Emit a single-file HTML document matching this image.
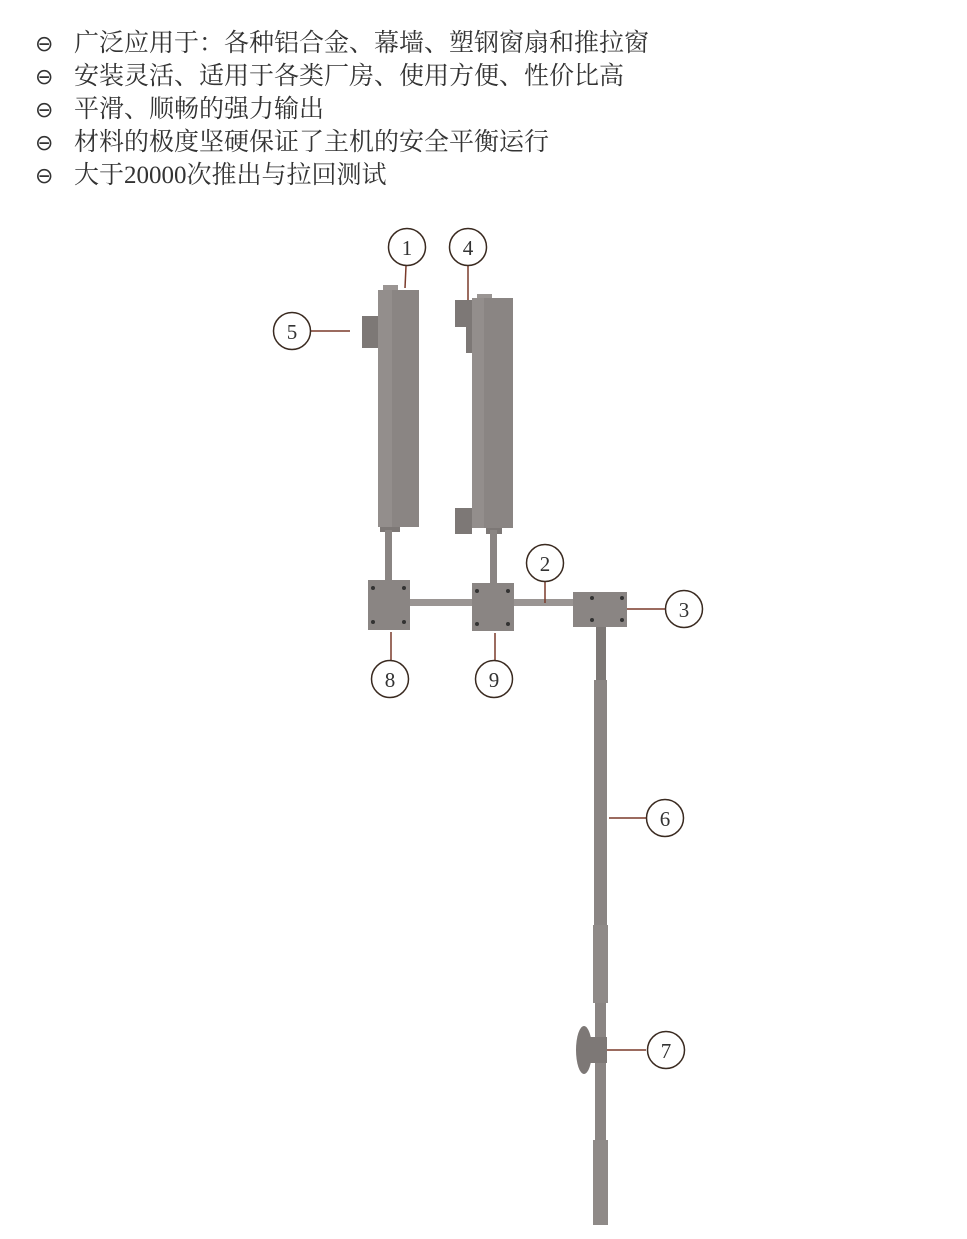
<!DOCTYPE html>
<html><head><meta charset="utf-8"><style>
body{margin:0;background:#fff;width:967px;height:1239px;overflow:hidden}
</style></head><body>
<svg width="967" height="1239" xmlns="http://www.w3.org/2000/svg" style="position:absolute;left:0;top:0">
<g font-family="'Liberation Serif','Noto Serif CJK SC',serif" font-size="25" fill="#333">
<text x="35" y="51" font-family="'DejaVu Sans',sans-serif" font-size="22">⊖</text><text x="74" y="51">广泛应用于：各种铝合金、幕墙、塑钢窗扇和推拉窗</text>
<text x="35" y="84" font-family="'DejaVu Sans',sans-serif" font-size="22">⊖</text><text x="74" y="84">安装灵活、适用于各类厂房、使用方便、性价比高</text>
<text x="35" y="117" font-family="'DejaVu Sans',sans-serif" font-size="22">⊖</text><text x="74" y="117">平滑、顺畅的强力输出</text>
<text x="35" y="150" font-family="'DejaVu Sans',sans-serif" font-size="22">⊖</text><text x="74" y="150">材料的极度坚硬保证了主机的安全平衡运行</text>
<text x="35" y="183" font-family="'DejaVu Sans',sans-serif" font-size="22">⊖</text><text x="74" y="183">大于20000次推出与拉回测试</text>
</g>
<g fill="#8a8583">
<rect x="383" y="285" width="15" height="6" fill="#9a9593"/>
<rect x="378" y="290" width="14" height="237" fill="#938e8c"/>
<rect x="392" y="290" width="27" height="237"/>
<rect x="362" y="316" width="16" height="32" fill="#7d7876"/>
<rect x="380" y="527" width="20" height="5" fill="#7d7876"/>
<rect x="385" y="530" width="7" height="50"/>
<rect x="477" y="294" width="15" height="6" fill="#9a9593"/>
<rect x="472" y="298" width="12" height="230" fill="#938e8c"/>
<rect x="484" y="298" width="29" height="230"/>
<rect x="455" y="300" width="17" height="27" fill="#7d7876"/>
<rect x="466" y="318" width="6" height="35" fill="#7d7876"/>
<rect x="455" y="508" width="17" height="26" fill="#7d7876"/>
<rect x="486" y="528" width="16" height="6" fill="#7d7876"/>
<rect x="490" y="530" width="7" height="53"/>
<rect x="410" y="599" width="165" height="7" fill="#9a9593"/>
<rect x="368" y="580" width="42" height="50"/>
<rect x="472" y="583" width="42" height="48"/>
<rect x="573" y="592" width="54" height="35"/>
<rect x="596" y="627" width="10" height="55" fill="#7d7876"/>
<rect x="594" y="680" width="13" height="245"/>
<rect x="593" y="925" width="15" height="78" fill="#8f8a88"/>
<rect x="595" y="1003" width="11" height="137"/>
<rect x="593" y="1140" width="15" height="85" fill="#8f8a88"/>
<ellipse cx="584" cy="1050" rx="8" ry="24" fill="#7d7876"/>
<rect x="584" y="1037" width="23" height="26" fill="#7d7876"/>
</g>
<g fill="#333">
<circle cx="373" cy="588" r="2"/><circle cx="404" cy="588" r="2"/><circle cx="373" cy="622" r="2"/><circle cx="404" cy="622" r="2"/>
<circle cx="477" cy="591" r="2"/><circle cx="508" cy="591" r="2"/><circle cx="477" cy="624" r="2"/><circle cx="508" cy="624" r="2"/>
<circle cx="592" cy="598" r="2"/><circle cx="622" cy="598" r="2"/><circle cx="592" cy="620" r="2"/><circle cx="622" cy="620" r="2"/>
</g>
<g stroke="#7a3a2a" stroke-width="1.5" fill="none">
<line x1="406" y1="266" x2="405" y2="288"/>
<line x1="468" y1="266" x2="468" y2="300"/>
<line x1="311" y1="331" x2="350" y2="331"/>
<line x1="545" y1="582" x2="545" y2="603"/>
<line x1="627" y1="609" x2="665" y2="609"/>
<line x1="391" y1="632" x2="391" y2="660"/>
<line x1="495" y1="633" x2="495" y2="660"/>
<line x1="609" y1="818" x2="646" y2="818"/>
<line x1="607" y1="1050" x2="646" y2="1050"/>
</g>
<g stroke="#3a2a20" stroke-width="1.5" fill="#fff">
<circle cx="407" cy="247" r="18.5"/><circle cx="468" cy="247" r="18.5"/><circle cx="292" cy="331" r="18.5"/>
<circle cx="545" cy="563" r="18.5"/><circle cx="684" cy="609" r="18.5"/><circle cx="390" cy="679" r="18.5"/>
<circle cx="494" cy="679" r="18.5"/><circle cx="665" cy="818" r="18.5"/><circle cx="666" cy="1050" r="18.5"/>
</g>
<g font-family="'Liberation Serif',serif" font-size="21" fill="#333" text-anchor="middle">
<text x="407" y="255">1</text><text x="468" y="255">4</text><text x="292" y="339">5</text>
<text x="545" y="571">2</text><text x="684" y="617">3</text><text x="390" y="687">8</text>
<text x="494" y="687">9</text><text x="665" y="826">6</text><text x="666" y="1058">7</text>
</g>
</svg>
</body></html>
